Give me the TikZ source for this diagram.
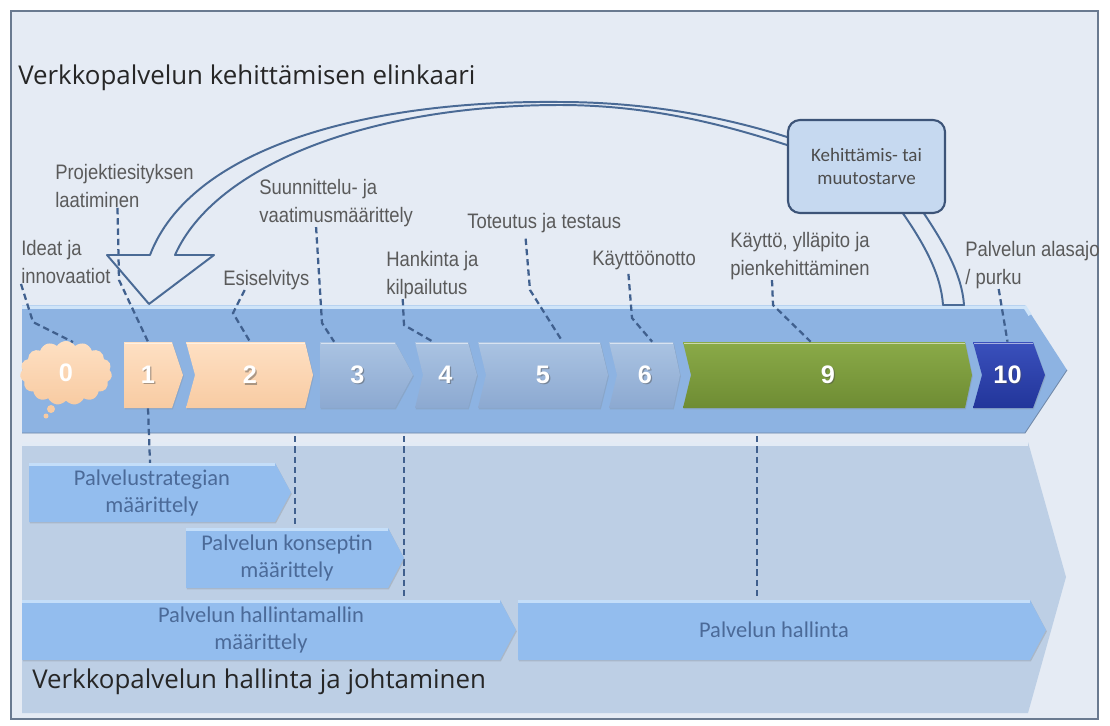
\documentclass[tikz,border=0pt]{standalone}
\usepackage{fontspec}
\setmainfont{Carlito}
\newfontfamily\titlefont{Open Sans}
\newfontfamily\lblfont[FakeStretch=0.88]{Liberation Sans}
\newfontfamily\numfont{Liberation Sans}
\usetikzlibrary{positioning,shadows,shapes.symbols,calc}

\definecolor{framebg}{HTML}{E5EBF4}
\definecolor{frameline}{HTML}{6A7A90}
\definecolor{bandtop}{HTML}{8DB3E2}
\definecolor{bandhi}{HTML}{CFE4F8}
\definecolor{bandlow}{HTML}{BDCFE5}
\definecolor{bandlowhi}{HTML}{E3EBF5}
\definecolor{blueA}{HTML}{AAC3E2}
\definecolor{blueB}{HTML}{8CA9D1}
\definecolor{peachA}{HTML}{FEE0C3}
\definecolor{peachB}{HTML}{F8CBA2}
\definecolor{greenA}{HTML}{8AAA48}
\definecolor{greenB}{HTML}{6E8C33}
\definecolor{navyA}{HTML}{3A50BC}
\definecolor{navyB}{HTML}{22359A}
\definecolor{subfillc}{HTML}{93BDEE}
\definecolor{subhi}{HTML}{C4DEF9}
\definecolor{subtext}{HTML}{4B6A98}
\definecolor{lblgray}{HTML}{5A5A5A}
\definecolor{leadcol}{HTML}{40608E}
\definecolor{arrowcol}{HTML}{4A6A95}
\definecolor{boxfill}{HTML}{C6D9F0}
\definecolor{boxline}{HTML}{3D5478}

% chevron: name, left x, right x, notch, point depth, look, number
\newcommand\chevron[7]{%
  \path[#6, drop shadow={opacity=.25, shadow xshift=.6pt, shadow yshift=-.9pt}]
    (#2,342) -- ({#3-#5},342) -- (#3,375) -- ({#3-#5},408) -- (#2,408) -- ({#2+#4},375) -- cycle;
  \draw[chevhi] ({#2+1},343.5) -- ({#3-#5},343.5);
  \node[num, text=black!70, opacity=.45] (#1s) at ({(#2+#3+#4-#5)/2+1.2},376.2) {#7};
  \node[num, minimum width={(#3-#2)*0.025cm}] (#1) at ({(#2+#3+#4-#5)/2},375) {#7};
}
% lower arrow: name, left x, right x, top y, bottom y, text
\newcommand\subarrow[6]{%
  \path[subfill, drop shadow={opacity=.3, shadow xshift=.6pt, shadow yshift=-1pt}]
    (#2,#4) -- ({#3-16},#4) -- (#3,{(#4+#5)/2}) -- ({#3-16},#5) -- (#2,#5) -- cycle;
  \draw[subhi, line width=1.5pt] (#2,{#4+1.5}) -- ({#3-16},{#4+1.5});
  \node[subtxt] (#1) at ({(#2+#3-16)/2},{(#4+#5)/2}) {#6};
}

\begin{document}
\begin{tikzpicture}[x=0.025cm, y=-0.025cm,
	lbl/.style={font=\lblfont\fontsize{14.9}{19.9}\selectfont, text=lblgray,
		align=left, inner sep=0, anchor=west},
	num/.style={font=\numfont\bfseries\fontsize{18}{20}\selectfont, text=white,
		minimum height=1.65cm, inner sep=0},
	chevblue/.style={top color=blueA, bottom color=blueB},
	chevpeach/.style={top color=peachA, bottom color=peachB},
	chevgreen/.style={top color=greenA, bottom color=greenB},
	chevnavy/.style={top color=navyA, bottom color=navyB},
	chevhi/.style={white, opacity=.55, line width=1.2pt},
	subfill/.style={fill=subfillc},
	subtxt/.style={font=\fontsize{16}{19.2}\selectfont, text=subtext, align=center, inner sep=0},
	leader/.style={draw=leadcol, line width=1.6pt, dash pattern=on 4.5pt off 2.8pt},
	bigtitle/.style={font=\titlefont\fontsize{18.4}{22}\selectfont, text=black!85, anchor=west, inner sep=0},
	needbox/.style={rectangle, rounded corners=0.3cm, draw=boxline, line width=1.5pt, fill=boxfill,
		minimum width=3.925cm, minimum height=2.325cm, align=center,
		font=\fontsize{13.5}{16.4}\selectfont, text=black!70}
	]
	\useasboundingbox (0,0) rectangle (1110,725);
	% frame
	\fill[white] (0,0) rectangle (1110,725);
	\draw[fill=framebg, draw=frameline, line width=1.1pt] (11,11) rectangle (1098,719);
	\node[bigtitle] (title) at (18,78) {Verkkopalvelun kehittämisen elinkaari};

	% bands
	\fill[bandlow] (22,442) -- (1028,442) -- (1066,577) -- (1028,713) -- (22,713) -- cycle;
	\draw[bandlowhi, line width=2.5pt] (22,444) -- (1028,444);
	\fill[bandtop] (22,305) -- (1025,305) -- (1067,370) -- (1025,433) -- (22,433) -- cycle;
	\draw[bandhi, line width=2.5pt] (22,307) -- (1025,307) -- (1030,315);
	\draw[blueB!80!black, line width=.6pt] (22,433) -- (1025,433) -- (1067,370);
	\node[bigtitle] (mgmt) at (32,682) {Verkkopalvelun hallinta ja johtaminen};

	% phases
	\node[cloud, cloud puffs=15, cloud puff arc=115, aspect=1.5, minimum width=2.3cm,
		minimum height=1.6cm, inner sep=0, top color=peachA, bottom color=peachB,
		font=\numfont\bfseries\fontsize{18}{20}\selectfont, text=white] (c0) at (66,373) {0};
	\fill[peachB] (51,409) circle (4);
	\fill[peachB] (46,416) circle (2.5);
	\chevron{c1}{124}{183}{0}{11}{chevpeach}{1}
	\chevron{c2}{186}{313}{9}{8}{chevpeach}{2}
	\chevron{c3}{320}{413}{0}{18}{chevblue}{3}
	\chevron{c4}{415}{477}{8}{9}{chevblue}{4}
	\chevron{c5}{478}{608}{8}{8}{chevblue}{5}
	\chevron{c6}{609}{680}{8}{7}{chevblue}{6}
	\chevron{c9}{683}{972}{8}{7}{chevgreen}{9}
	\chevron{c10}{973}{1045}{9}{12}{chevnavy}{10}

	% phase labels
	\node[lbl] (l0) at (21,262) {Ideat ja\\innovaatiot};
	\node[lbl] (l1) at (55,186) {Projektiesityksen\\laatiminen};
	\node[lbl] (l2) at (223,280) {Esiselvitys};
	\node[lbl] (l3) at (259,203) {Suunnittelu- ja\\vaatimusmäärittely};
	\node[lbl] (l4) at (386,275) {Hankinta ja\\kilpailutus};
	\node[lbl] (l5) at (467,223) {Toteutus ja testaus};
	\node[lbl] (l6) at (592,260) {Käyttöönotto};
	\node[lbl] (l9) at (730,256) {Käyttö, ylläpito ja\\pienkehittäminen};
	\node[lbl] (l10) at (965,265) {Palvelun alasajo\\/ purku};

	% leaders
	\draw[leader] (l0.south west) -- (33,322) -- (73,342);
	\draw[leader] ($(l1.south west)!.45!(l1.south east)$) -- (119,280) -- (c1.north);
	\draw[leader] ($(l2.south west)!.25!(l2.south east)$) -- (233,313) -- (c2.north);
	\draw[leader] ($(l3.south west)!.37!(l3.south east)$) -- (322,323) -- ($(c3.north west)!.25!(c3.north east)$);
	\draw[leader] ($(l4.south west)!.18!(l4.south east)$) -- (404,325) -- ($(c4.north west)!.3!(c4.north east)$);
	\draw[leader] ([yshift=-4pt]$(l5.south west)!.38!(l5.south east)$) -- (530,290) -- ($(c5.north west)!.65!(c5.north east)$);
	\draw[leader] ([yshift=-3pt]$(l6.south west)!.35!(l6.south east)$) -- (632,318) -- ($(c6.north west)!.6!(c6.north east)$);
	\draw[leader] ($(l9.south west)!.3!(l9.south east)$) -- (773,305) -- ($(c9.north west)!.44!(c9.north east)$);
	\draw[leader] ($(l10.south west)!.25!(l10.south east)$) -- (c10.north);

	% management tracks
	\draw[leader] (c1.south) -- (150,463);
	\draw[leader] (295,436) -- (295,528);
	\draw[leader] (404,436) -- (404,600);
	\draw[leader] (757,436) -- (757,600);
	\subarrow{m1}{29}{291}{463}{522}{Palvelustrategian\\määrittely}
	\subarrow{m2}{186}{404}{528}{588}{Palvelun konseptin\\määrittely}
	\subarrow{m3}{22}{516}{600}{660}{Palvelun hallintamallin\\määrittely}
	\subarrow{m4}{518}{1046}{600}{660}{Palvelun hallinta}

	% feedback loop
	\draw[arrowcol, line width=1.4pt, line join=round]
		(943,305) .. controls (941,275) and (925,245) .. (902,212) -- (787,145)
		.. controls (740,130) and (660,105) .. (560,105)
		.. controls (370,105) and (215,165) .. (175,255)
		-- (214,255) -- (149,304) -- (107,255) -- (150,255)
		.. controls (190,150) and (360,100) .. (560,102)
		.. controls (660,102) and (740,122) .. (787,137) -- (923,212)
		.. controls (945,245) and (962,275) .. (964,305) -- cycle;
	\node[needbox] (need) at (866.5,166.5) {Kehittämis- tai\\muutostarve};
\end{tikzpicture}
\end{document}
